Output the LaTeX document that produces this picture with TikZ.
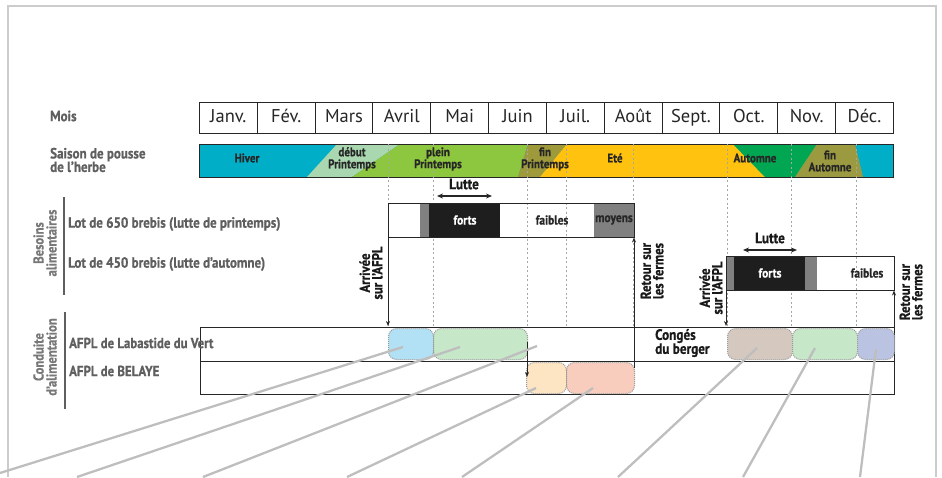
\documentclass[tikz,border=0pt]{standalone}
\usepackage{fontspec}
\setmainfont{PT Sans}
\newfontfamily\cond[FakeStretch=0.88, BoldFont={* Bold}, BoldFeatures={FakeBold=0.8}]{PT Sans}
\usetikzlibrary{arrows.meta}
\definecolor{hiver}{RGB}{0,174,199}
\definecolor{debut}{RGB}{168,215,176}
\definecolor{plein}{RGB}{141,198,63}
\definecolor{finp}{RGB}{158,154,60}
\definecolor{ete}{RGB}{255,194,14}
\definecolor{autom}{RGB}{0,166,81}
\definecolor{fina}{RGB}{156,154,64}
\definecolor{lblgray}{RGB}{95,95,95}
\definecolor{secgray}{RGB}{120,120,120}
\definecolor{callgray}{RGB}{190,190,190}
\definecolor{bBlue}{RGB}{178,224,245}
\definecolor{bGreen}{RGB}{198,232,200}
\definecolor{bPeach}{RGB}{253,228,194}
\definecolor{bSalmon}{RGB}{248,205,190}
\definecolor{bBrown}{RGB}{213,200,190}
\definecolor{bLav}{RGB}{186,195,226}
\definecolor{midgray}{RGB}{128,128,128}
\definecolor{boxblack}{RGB}{30,30,30}
\begin{document}
\begin{tikzpicture}[x=1pt,y=-1pt,
  month/.style={draw=black!85, line width=0.8pt, minimum width=57.83pt, minimum height=31pt, inner sep=0pt, anchor=north west, font=\fontsize{18.5}{19}\selectfont, text=black!85, text height=13pt, text depth=4pt},
  seasonlbl/.style={font=\cond\bfseries\fontsize{12.5}{12}\selectfont, text=black!85, align=center, inner sep=0pt},
  sidelbl/.style={font=\cond\bfseries\fontsize{14.8}{13.5}\selectfont, text=lblgray, align=left, inner sep=0pt, anchor=west},
  seclbl/.style={font=\cond\bfseries\fontsize{14.3}{13}\selectfont, text=secgray, align=center, inner sep=0pt, rotate=90},
  secbar/.style={line width=2pt, draw=lblgray},
  periodline/.style={draw=black!35, dash pattern=on 2pt off 2.5pt, line width=0.6pt},
  needbox/.style={draw=black!85, line width=0.8pt, minimum height=34pt, inner sep=0pt, anchor=north west},
  rowbox/.style={draw=black!85, line width=0.8pt, minimum width=694pt, inner sep=0pt, anchor=north west},
  blob/.style={draw=black!40, densely dotted, line width=1pt, rounded corners=8pt, minimum height=31pt, inner sep=0pt, anchor=north west},
  inlbl/.style={font=\cond\bfseries\fontsize{13}{14}\selectfont, inner sep=0pt},
  vlbl/.style={font=\cond\bfseries\fontsize{14.5}{12.5}\selectfont, text=black!90, align=center, inner sep=0pt, rotate=90},
  lutlbl/.style={font=\cond\bfseries\fontsize{15}{15}\selectfont, text=black!90, inner sep=0pt},
  flow/.style={-{Stealth[length=5pt,width=4pt]}, line width=0.7pt, draw=black!85},
  lutte/.style={{Stealth[length=6pt,width=5pt]}-{Stealth[length=6pt,width=5pt]}, line width=1.3pt, draw=black!85},
  callout/.style={draw=callgray, line width=2.3pt},
  frame/.style={draw=black!20, line width=2pt}
]
\useasboundingbox (0,0) rectangle (942,477);
\draw[frame] (8,477) -- (8,6) -- (936,6) -- (936,477);

% months
\foreach \n [count=\i from 0] in {Janv.,Fév.,Mars,Avril,Mai,Juin,Juil.,Août,Sept.,Oct.,Nov.,Déc.}
  \node[month] (m\i) at ({199+57.83*\i},102) {\n};

% season bar
\fill[hiver] (199,144) rectangle (893,177);
\fill[debut] (307,177) -- (337,144) -- (400,144) -- (352,177) -- cycle;
\fill[plein] (352,177) -- (400,144) -- (528,144) -- (518,177) -- cycle;
\fill[finp] (518,177) -- (528,144) -- (567,144) -- (540,177) -- cycle;
\fill[ete] (540,177) -- (567,144) -- (733,144) -- (765,177) -- cycle;
\fill[autom] (765,177) -- (733,144) -- (817,144) -- (795,177) -- cycle;
\fill[fina] (795,177) -- (817,144) -- (855,144) -- (863,177) -- cycle;
\node[draw=black!85, line width=0.9pt, minimum width=694pt, minimum height=33pt, inner sep=0pt, anchor=north west] (saison) at (199,144) {};

% period dashed lines
\foreach \x in {388,433,527,566,633,727,791,856}
  \draw[periodline] (\x,144) -- (\x,327);

\node[seasonlbl] (sHiver) at (247,158) {Hiver};
\node[seasonlbl] (sDebut) at (352,159) {début\\Printemps};
\node[seasonlbl] (sPlein) at (438,159) {plein\\Printemps};
\node[seasonlbl] (sFinP) at (545,159) {fin\\Printemps};
\node[seasonlbl] (sEte) at (615,158) {Eté};
\node[seasonlbl] (sAut) at (755,158) {Automne};
\node[seasonlbl] (sFinA) at (830,161) {fin\\Automne};

% left labels
\node[sidelbl] (lMois) at (50,116) {Mois};
\node[sidelbl] (lSaison) at (50,160) {Saison de pousse\\de l’herbe};
\node[seclbl] (lBesoins) at (45,243) {Besoins\\alimentaires};
\draw[secbar] (64,197) -- (64,295);
\node[sidelbl] (lLot650) at (68,224) {Lot de 650 brebis (lutte de printemps)};
\node[sidelbl] (lLot450) at (68,264) {Lot de 450 brebis (lutte d’automne)};
\node[seclbl] (lConduite) at (45,357) {Conduite\\d’alimentation};
\draw[secbar] (65,312) -- (65,409);

% lot 650 box
\fill[midgray] (420,203) rectangle (429,237);
\fill[boxblack] (429,203) rectangle (500,237);
\fill[midgray] (594,203) rectangle (634,237);
\node[needbox, minimum width=246pt] (lot650) at (388,203) {};
\node[inlbl, text=white] (f650) at (465,220) {forts};
\node[inlbl, text=black!85] (fa650) at (552,220) {faibles};
\node[inlbl, text=black!85] (mo650) at (614,220) {moyens};
\coordinate (lu1a) at (437,196);
\coordinate (lu1b) at (492,196);
\draw[lutte] (lu1a) -- (lu1b);
\node[lutlbl] (lut1) at (464,184) {Lutte};

% lot 450 box
\fill[midgray] (726,256) rectangle (734,290);
\fill[boxblack] (734,256) rectangle (805,290);
\fill[midgray] (805,256) rectangle (817,290);
\node[needbox, minimum width=168pt] (lot450) at (726,256) {};
\node[inlbl, text=white] (f450) at (770,273) {forts};
\node[inlbl, text=black!85] (fa450) at (867,273) {faibles};
\coordinate (lu2a) at (743,250);
\coordinate (lu2b) at (797,250);
\draw[lutte] (lu2a) -- (lu2b);
\node[lutlbl] (lut2) at (770,238) {Lutte};

% feeding rows
\node[rowbox, minimum height=34pt] (rowLab) at (200,327) {};
\node[rowbox, minimum height=33pt] (rowBel) at (200,361) {};
\node[sidelbl, font=\cond\bfseries\fontsize{14.6}{14}\selectfont] (lLab) at (69,343) {AFPL de Labastide du Vert};
\node[sidelbl, font=\cond\bfseries\fontsize{14.6}{14}\selectfont] (lBel) at (69,371) {AFPL de BELAYE};

% blobs
\node[blob, fill=bBlue, minimum width=45pt] (b1) at (388,328) {};
\node[blob, fill=bGreen, minimum width=94pt] (b2) at (433,328) {};
\node[blob, fill=bBrown, minimum width=65pt] (b3) at (727,328) {};
\node[blob, fill=bGreen, minimum width=65pt] (b4) at (792,328) {};
\node[blob, fill=bLav, minimum width=37pt] (b5) at (857,328) {};
\node[blob, fill=bPeach, minimum width=40pt] (b6) at (526,362) {};
\node[blob, fill=bSalmon, minimum width=68pt] (b7) at (566,362) {};

\node[font=\cond\bfseries\fontsize{15}{14}\selectfont, text=black!90, align=left, inner sep=0pt, anchor=west] (conges) at (655,343) {Congés\\du berger};

% arrows
\coordinate (a1s) at (388,237);
\coordinate (a1e) at (388,326);
\draw[flow] (a1s) -- (a1e);
\node[vlbl] (arr1) at (371,273) {Arrivée\\sur l’AFPL};
\coordinate (r1s) at (634,368);
\coordinate (r1e) at (634,237.5);
\draw[flow] (r1s) -- (r1e);
\node[vlbl] (ret1) at (652,271) {Retour sur\\les fermes};
\coordinate (t1s) at (527,342);
\coordinate (t1e) at (527,377);
\draw[flow] (t1s) -- (t1e);
\coordinate (a2s) at (726,290);
\coordinate (a2e) at (726,326);
\draw[flow] (a2s) -- (a2e);
\node[vlbl] (arr2) at (711,288) {Arrivée\\sur l’AFPL};
\coordinate (r2s) at (894,327);
\coordinate (r2e) at (894,290.5);
\draw[flow] (r2s) -- (r2e);
\node[vlbl] (ret2) at (911,292) {Retour sur\\les fermes};

% callout lines
\coordinate (ca1) at (403,347); \coordinate (cb1) at (0,473);
\coordinate (ca2) at (460,347); \coordinate (cb2) at (77,477);
\coordinate (ca3) at (537,346); \coordinate (cb3) at (203,477);
\coordinate (ca4) at (536,388); \coordinate (cb4) at (347,477);
\coordinate (ca5) at (593,388); \coordinate (cb5) at (462,477);
\coordinate (ca6) at (757,348); \coordinate (cb6) at (618,477);
\coordinate (ca7) at (815,348); \coordinate (cb7) at (743,477);
\coordinate (ca8) at (876,349); \coordinate (cb8) at (860,477);
\foreach \k in {1,...,8}
  \draw[callout] (ca\k) -- (cb\k);
\end{tikzpicture}
\end{document}
